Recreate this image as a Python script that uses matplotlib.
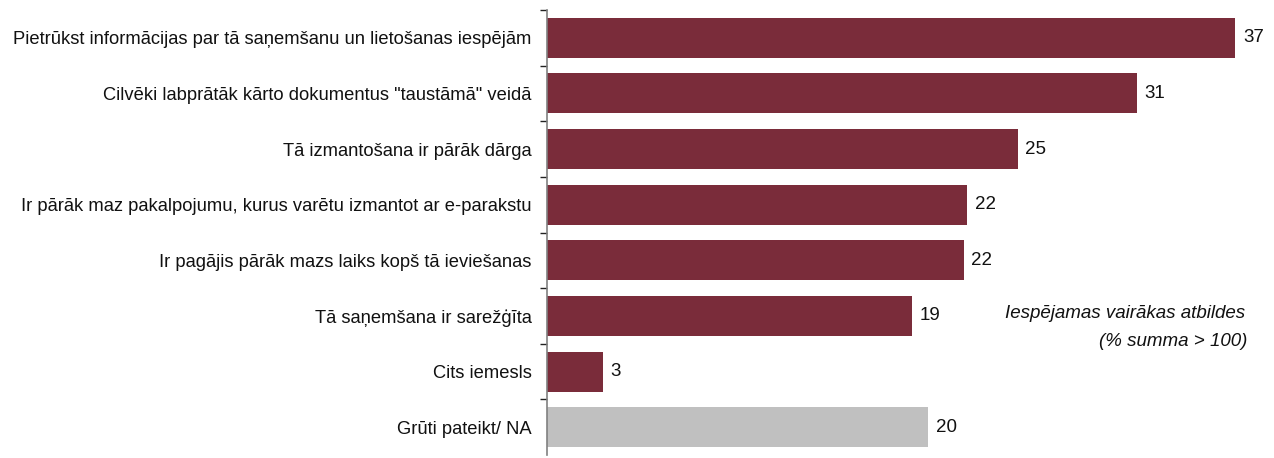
import matplotlib
matplotlib.use("Agg")
import matplotlib.pyplot as plt
import numpy as np

categories = [
    "Pietrūkst informācijas par tā saņemšanu un lietošanas iespējām",
    "Cilvēki labprātāk kārto dokumentus \"taustāmā\" veidā",
    "Tā izmantošana ir pārāk dārga",
    "Ir pārāk maz pakalpojumu, kurus varētu izmantot ar e-parakstu",
    "Ir pagājis pārāk mazs laiks kopš tā ieviešanas",
    "Tā saņemšana ir sarežģīta",
    "Cits iemesls",
    "Grūti pateikt/ NA",
]
values = [37.0, 31.7, 25.3, 22.6, 22.4, 19.6, 3.0, 20.5]
labels = [37, 31, 25, 22, 22, 19, 3, 20]
colors = ["#7a2c3a"] * 7 + ["#c0c0c0"]

plt.rcParams["font.family"] = ["Liberation Sans", "DejaVu Sans"]

fig = plt.figure(figsize=(12.74, 4.58), dpi=100)
ax = fig.add_axes([547 / 1274, 3 / 458, 727 / 1274, 445 / 458])

y = np.arange(len(categories))
bars = ax.barh(y, values, height=0.72, color=colors)
for b, lab in zip(bars, labels):
    ax.text(b.get_width() + 0.42, b.get_y() + b.get_height() / 2, str(lab),
            va="center", ha="left", fontsize=13.5, color="#111111")

ax.set_ylim(len(categories) - 0.5, -0.5)
ax.set_xlim(0, 727 / 18.6)
ax.set_yticks(y)
ax.set_yticklabels(categories, fontsize=13.2, color="#111111")
ax.tick_params(axis="y", which="major", length=0, pad=11)
ax.set_yticks(np.arange(-0.5, len(categories) - 0.5, 1), minor=True)
ax.tick_params(axis="y", which="minor", length=5, width=1, color="#222222")
ax.set_xticks([])
for s in ["top", "right", "bottom"]:
    ax.spines[s].set_visible(False)
ax.spines["left"].set_color("#808080")
ax.spines["left"].set_linewidth(1.2)

fig.text(1245 / 1274, 1 - 314 / 458, "Iespējamas vairākas atbildes", ha="right", va="center",
         fontsize=13.5, style="italic", color="#111111")
fig.text(1247 / 1274, 1 - 342 / 458, "(% summa > 100)", ha="right", va="center",
         fontsize=13.5, style="italic", color="#111111")

fig.savefig("out.png", dpi=100)
